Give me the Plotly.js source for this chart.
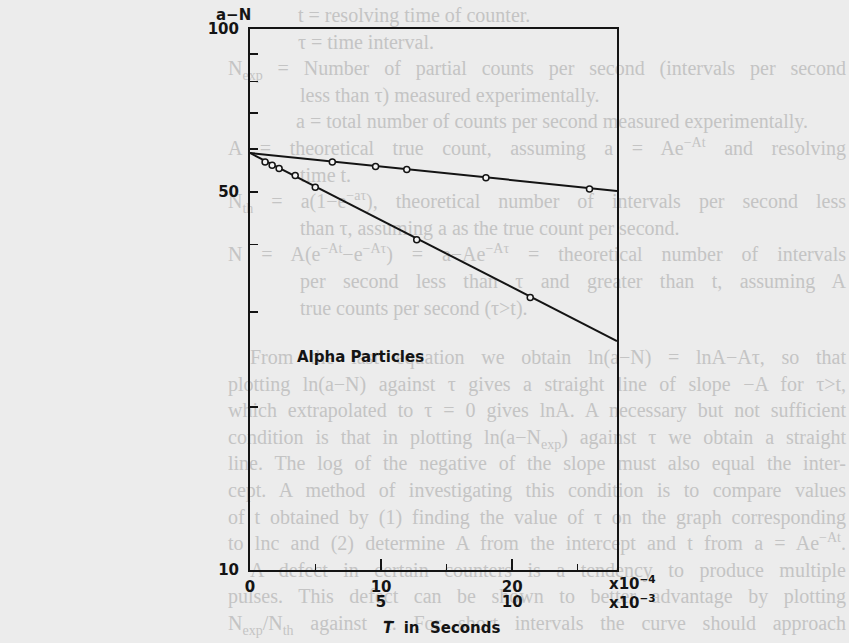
<!DOCTYPE html>
<html>
<head>
<meta charset="utf-8">
<script src="https://cdn.plot.ly/plotly-3.0.1.min.js"></script>
<style>
  html, body { margin:0; padding:0; width:849px; height:643px; overflow:hidden; background:#ececec; }
  #page { position:absolute; left:0; top:0; width:849px; height:643px; overflow:hidden;
          font-family:"Liberation Serif", "DejaVu Serif", serif; font-size:20px; color:#c4c4c4; }
  .ln { position:absolute; white-space:nowrap; line-height:22px; height:22px; }
  .ln sub, .ln sup { font-size:70%; line-height:0; }
  .j { text-align:justify; text-align-last:justify; }
  #chart { position:absolute; left:0; top:0; width:849px; height:643px; }
</style>
</head>
<body>
<div id="page"></div>
<div id="chart"></div>
<script>
// ---- chart data (time interval tau; counts a-N per second) ----
const tauFastE4 = [1.15, 1.69, 2.22, 3.45, 4.98, 12.72, 21.38];      // x10^-4 s
const countsFast = [56.8, 56.0, 55.2, 53.6, 51.0, 40.8, 31.9];
const tauSlowE3 = [3.14, 4.79, 5.98, 9.0, 12.95];                    // x10^-3 s
const countsSlow = [56.8, 55.7, 55.0, 53.1, 50.6];
const fitFastTau = [0, 28];
const fitFastCounts = [59, 26.5];
const fitSlowTau = [0, 14];
const fitSlowCounts = [59, 50.2];

const xTicksE4 = [0, 10, 20];
const xTickTextE4 = ["0", "10", "20"];
const xMinorE4 = [5, 15, 25];
const xTicksE3 = [5, 10];
const xTickTextE3 = ["5", "10"];
const yTicks = [10, 50, 100];
const yTickText = ["10", "50", "100"];
const yMinor = [20, 30, 40, 60, 70, 80, 90];

// ---- faint show-through page text ----
const pageLinesTop = [
  ["t = resolving time of counter.", 298, false],
  ["τ = time interval.", 298, false],
  ["N<sub>exp</sub> = Number of partial counts per second (intervals per second", 228, true],
  ["less than τ) measured experimentally.", 300, false],
  ["a = total number of counts per second measured experimentally.", 296, false],
  ["A = theoretical true count, assuming a = Ae<sup>−At</sup> and resolving", 228, true],
  ["time t.", 300, false],
  ["N<sub>th</sub> = a(1−e<sup>−aτ</sup>), theoretical number of intervals per second less", 228, true],
  ["than τ, assuming a as the true count per second.", 300, false],
  ["N = A(e<sup>−At</sup>−e<sup>−Aτ</sup>) = a−Ae<sup>−Aτ</sup> = theoretical number of intervals", 228, true],
  ["per second less than τ and greater than t, assuming A", 300, true],
  ["true counts per second (τ&gt;t).", 300, false]
];
const pageLinesBottom = [
  ["From the last equation we obtain ln(a−N) = lnA−Aτ, so that", 250, true],
  ["plotting ln(a−N) against τ gives a straight line of slope −A for τ&gt;t,", 228, true],
  ["which extrapolated to τ = 0 gives lnA.  A necessary but not sufficient", 228, true],
  ["condition is that in plotting ln(a−N<sub>exp</sub>) against τ we obtain a straight", 228, true],
  ["line.  The log of the negative of the slope must also equal the inter-", 228, true],
  ["cept.  A method of investigating this condition is to compare values", 228, true],
  ["of t obtained by (1) finding the value of τ on the graph corresponding", 228, true],
  ["to lnc and (2) determine A from the intercept and t from a = Ae<sup>−At</sup>.", 228, true],
  ["A defect in certain counters is a tendency to produce multiple", 250, true],
  ["pulses.  This defect can be shown to better advantage by plotting", 228, true],
  ["N<sub>exp</sub>/N<sub>th</sub> against τ.  For short intervals the curve should approach", 228, true]
];
(function buildPage(){
  const page = document.getElementById('page');
  function add(lines, y0, dy){
    lines.forEach((l, i) => {
      const d = document.createElement('div');
      d.className = 'ln' + (l[2] ? ' j' : '');
      d.style.left = l[1] + 'px';
      d.style.top = (y0 + i*dy - 11) + 'px';
      if (l[2]) d.style.width = (846 - l[1]) + 'px';
      d.innerHTML = l[0];
      page.appendChild(d);
    });
  }
  add(pageLinesTop, 15, 26.6);
  add(pageLinesBottom, 357, 26.6);
})();

const ink = '#141414';
const sans = {family: 'DejaVu Sans, Liberation Sans, sans-serif', size: 15, color: ink, weight: 'bold'};

const traces = [
  {x: fitFastTau, y: fitFastCounts, xaxis: 'x', yaxis: 'y', mode: 'lines',
   line: {color: ink, width: 2}, hoverinfo: 'skip', showlegend: false},
  {x: fitSlowTau, y: fitSlowCounts, xaxis: 'x2', yaxis: 'y', mode: 'lines',
   line: {color: ink, width: 2}, hoverinfo: 'skip', showlegend: false},
  {x: tauFastE4, y: countsFast, xaxis: 'x', yaxis: 'y', mode: 'markers',
   marker: {symbol: 'circle', size: 6, color: '#f4f4f4', line: {color: ink, width: 1.5}}, showlegend: false},
  {x: tauSlowE3, y: countsSlow, xaxis: 'x2', yaxis: 'y', mode: 'markers',
   marker: {symbol: 'circle', size: 6, color: '#f4f4f4', line: {color: ink, width: 1.5}}, showlegend: false}
];

const layout = {
  width: 849, height: 643,
  margin: {l: 250, r: 232, t: 29, b: 73, pad: 0},
  paper_bgcolor: 'rgba(0,0,0,0)', plot_bgcolor: 'rgba(0,0,0,0)',
  font: sans,
  showlegend: false,
  xaxis: {
    range: [0, 28], showgrid: false, zeroline: false,
    showline: true, linecolor: ink, linewidth: 2, mirror: true,
    tickmode: 'array', tickvals: xTicksE4, ticktext: xTickTextE4,
    ticks: 'inside', ticklen: 11, tickwidth: 1.5, tickcolor: ink,
    minor: {tickmode: 'array', tickvals: xMinorE4, ticks: 'inside', ticklen: 6, tickwidth: 1.5, tickcolor: ink, showgrid: false},
    tickfont: sans, ticklabelstandoff: 2
  },
  xaxis2: {
    overlaying: 'x', anchor: 'y', side: 'bottom', range: [0, 14],
    showgrid: false, zeroline: false, showline: false,
    tickmode: 'array', tickvals: xTicksE3, ticktext: xTickTextE3,
    ticks: '', tickfont: sans, ticklabelstandoff: 21
  },
  yaxis: {
    type: 'log', range: [1, 2], showgrid: false, zeroline: false,
    showline: true, linecolor: ink, linewidth: 2, mirror: true,
    tickmode: 'array', tickvals: yTicks, ticktext: yTickText,
    ticks: 'inside', ticklen: 8, tickwidth: 1.5, tickcolor: ink,
    minor: {tickmode: 'array', tickvals: yMinor, ticks: 'inside', ticklen: 8, tickwidth: 1.5, tickcolor: ink, showgrid: false},
    tickfont: sans, ticklabelstandoff: 6
  },
  annotations: [
    {text: 'a−N', xref: 'paper', yref: 'paper', x: -0.046, y: 1.026, xanchor: 'center', yanchor: 'middle', showarrow: false, font: sans},
    {text: 'Alpha Particles', xref: 'paper', yref: 'paper', x: 0.302, y: 0.394, xanchor: 'center', yanchor: 'middle', showarrow: false, font: sans},
    {text: '<i>T</i>  in  Seconds', xref: 'paper', yref: 'paper', x: 0.523, y: -0.107, xanchor: 'center', yanchor: 'middle', showarrow: false, font: sans},
    {text: 'x10<sup>−4</sup>', xref: 'paper', yref: 'paper', x: 0.972, y: -0.024, xanchor: 'left', yanchor: 'middle', showarrow: false, font: sans},
    {text: 'x10<sup>−3</sup>', xref: 'paper', yref: 'paper', x: 0.972, y: -0.059, xanchor: 'left', yanchor: 'middle', showarrow: false, font: sans}
  ]
};

Plotly.newPlot('chart', traces, layout, {staticPlot: true, displayModeBar: false});
</script>
</body>
</html>
